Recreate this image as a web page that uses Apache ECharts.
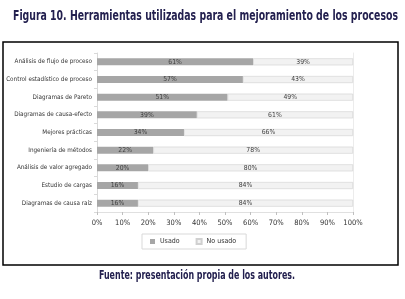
<!DOCTYPE html>
<html><head><meta charset="utf-8">
<script src="https://cdn.jsdelivr.net/npm/echarts@6/dist/echarts.min.js"></script>
<style>html,body{margin:0;padding:0;background:#fff}#c{width:405px;height:299px}</style>
</head><body><div id="c"></div>
<script>
const categories = ['Análisis de flujo de proceso','Control estadístico de proceso','Diagramas de Pareto','Diagramas de causa-efecto','Mejores prácticas','Ingeniería de métodos','Análisis de valor agregado','Estudio de cargas','Diagramas de causa raíz'];
const usado = [61,57,51,39,34,22,20,16,16];
const noUsado = [39,43,49,61,66,78,80,84,84];
const seriesNames = ['Usado','No usado'];
const titleText = 'Figura 10. Herramientas utilizadas para el mejoramiento de los procesos';
const sourceText = 'Fuente: presentación propia de los autores.';

const FONT = '"Liberation Sans Narrow","DejaVu Sans Condensed",sans-serif';
const TFONT = '"DejaVu Sans Condensed","Liberation Sans Narrow",sans-serif';
function fit(font, text, target){
  const ctx = document.createElement('canvas').getContext('2d');
  ctx.font = font; const w = ctx.measureText(text).width; return target / w;
}
const titleFont = 'bold 14px ' + TFONT;
const srcFont = 'bold 12px ' + TFONT;

const chart = echarts.init(document.getElementById('c'), null, {renderer:'canvas'});
chart.setOption({
  animation:false,
  textStyle:{fontFamily:FONT},
  grid:{left:97, right:52, top:53, bottom:87, containLabel:false, outerBoundsMode:'none'},
  xAxis:{type:'value', min:0, max:100, interval:10,
    axisLabel:{formatter:'{value}%', fontSize:7.5, color:'#333', margin:7, fontFamily:FONT},
    axisLine:{show:true, lineStyle:{color:'#e0e0e0'}},
    axisTick:{show:true, length:3, lineStyle:{color:'#bfbfbf'}},
    splitLine:{show:false}},
  yAxis:[{type:'category', data:categories, inverse:true,
    axisLabel:{fontSize:6.3, color:'#333', margin:5, fontFamily:FONT},
    axisLine:{show:true, lineStyle:{color:'#d9d9d9'}},
    axisTick:{show:true, length:3, lineStyle:{color:'#d9d9d9'}}},
    {type:'category', data:categories, inverse:true, position:'right',
    axisLabel:{show:false}, axisTick:{show:false},
    axisLine:{show:true, lineStyle:{color:'#ececec'}}}],
  legend:{data:seriesNames, left:142, top:234, itemWidth:5, itemHeight:5, itemGap:16,
    padding:[4,10,4,8], borderColor:'#d9d9d9', borderWidth:1,
    textStyle:{fontSize:7, color:'#333', fontFamily:FONT}, icon:'rect'},
  series:[
    {name:seriesNames[0], type:'bar', stack:'t', data:usado, barWidth:7,
     itemStyle:{color:'#a6a6a6'},
     label:{show:true, position:'inside', formatter:'{c}%', fontSize:6.8, color:'#404040', fontFamily:FONT}},
    {name:seriesNames[1], type:'bar', stack:'t', data:noUsado, barWidth:7,
     itemStyle:{color:'#f2f2f2', borderColor:'#d0d0d0', borderWidth:0.6},
     label:{show:true, position:'inside', formatter:'{c}%', fontSize:6.8, color:'#404040', fontFamily:FONT}}
  ],
  graphic:[
    {type:'rect', shape:{x:3, y:42, width:395, height:223}, style:{fill:'none', stroke:'#000', lineWidth:1.5}, silent:true},
    {type:'text', x:13, y:16, scaleX:fit(titleFont, titleText, 385), style:{text:titleText, font:titleFont, fill:'#23204f', textVerticalAlign:'middle', textAlign:'left'}},
    {type:'text', x:99, y:276, scaleX:fit(srcFont, sourceText, 196), style:{text:sourceText, font:srcFont, fill:'#23204f', textVerticalAlign:'middle', textAlign:'left'}}
  ]
});
</script></body></html>
